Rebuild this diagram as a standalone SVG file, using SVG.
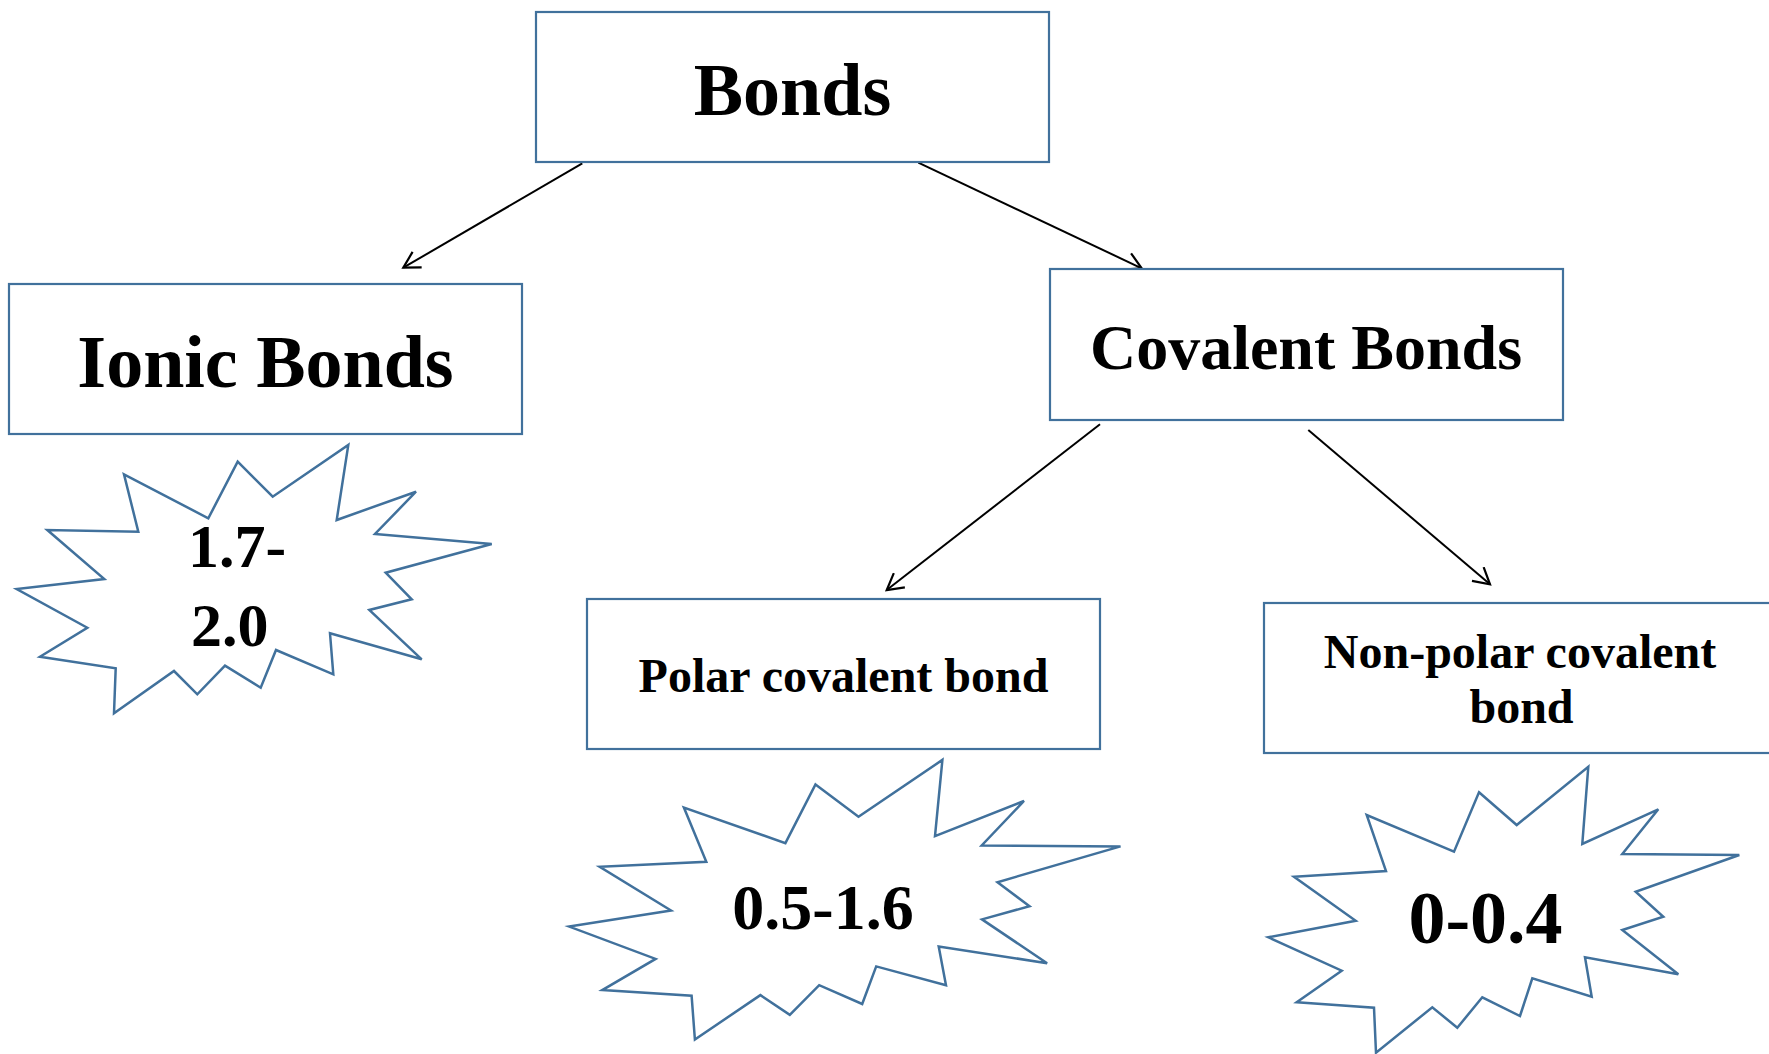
<svg xmlns="http://www.w3.org/2000/svg" width="1769" height="1054" viewBox="0 0 1769 1054">
<style>
.box{fill:#ffffff;stroke:#41719c;stroke-width:2.2}
.star{fill:#ffffff;stroke:#41719c;stroke-width:2.5;stroke-linejoin:miter}
.t{font-family:"Liberation Serif","Times New Roman",serif;font-weight:bold;fill:#000000}
.c{text-anchor:middle}
.conn{stroke:#000000;stroke-width:2;fill:none;marker-end:url(#arrow)}
</style>
<defs>
<marker id="arrow" viewBox="0 0 20 20" refX="18" refY="10" markerWidth="20" markerHeight="20" markerUnits="userSpaceOnUse" orient="auto">
<path d="M2,1 L18,10 L2,19" fill="none" stroke="#000000" stroke-width="2.2"/>
</marker>
</defs>
<rect width="1769" height="1054" fill="#ffffff"/>
<g id="connectors">
<line class="conn" x1="582.3" y1="163.3" x2="403.3" y2="267.7"/>
<line class="conn" x1="918.3" y1="162.7" x2="1141.7" y2="268.3"/>
<line class="conn" x1="1100" y1="424.3" x2="886.7" y2="590"/>
<line class="conn" x1="1308.3" y1="430" x2="1490" y2="584.3"/>
</g>
<g id="bonds">
<rect class="box" x="536" y="12" width="513" height="150"/>
<text class="t c" x="792.5" y="115" font-size="74">Bonds</text>
</g>
<g id="ionic">
<rect class="box" x="9" y="284" width="513" height="150"/>
<text class="t c" x="265.5" y="387" font-size="74">Ionic Bonds</text>
</g>
<g id="covalent">
<rect class="box" x="1050" y="269" width="513" height="151"/>
<text class="t c" x="1306" y="369" font-size="64">Covalent Bonds</text>
</g>
<g id="polar">
<rect class="box" x="587" y="599" width="513" height="150"/>
<text class="t c" x="843.5" y="692" font-size="48">Polar covalent bond</text>
</g>
<g id="nonpolar">
<rect class="box" x="1264" y="603" width="520" height="150"/>
<text class="t c" x="1520" y="668" font-size="48">Non-polar covalent</text>
<text class="t c" x="1521.5" y="723" font-size="48">bond</text>
</g>
<g id="ionic-range">
<polygon class="star" points="237.7,461.7 272.7,496.7 348.3,445 336.7,520 416,491.7 375,534 491.7,544 385.7,572.7 411.7,599.3 369.3,610 421.7,659.3 330,633.3 333.3,674.3 276,650 260.7,687.7 225,665.7 197.3,694.3 174,671 114,713.3 115.7,668.3 40,656.7 87.3,627.7 16.7,589 104.3,579 47.3,530 138.3,531.7 124,474.3 208.3,518.3"/>
<text class="t" x="188" y="566.5" font-size="62">1.7-</text>
<text class="t" x="191" y="646" font-size="62">2.0</text>
</g>
<g id="polar-range">
<polygon class="star" points="815.5,784.5 858.5,816.8 942.4,759.9 935,836.2 1024,801 981.7,845.4 1120.5,846.4 997.5,882.2 1029.5,906.2 982,919.4 1047.1,963.2 938.7,946.4 946,985.2 876.2,966.4 862.2,1004 819.2,985.2 789.8,1014.8 760.4,995.1 694.9,1039.5 691.6,995.7 602.3,990.1 655.6,958.9 569.2,926.6 671,910.5 599.7,866.8 706.3,861.8 683.9,807.6 785.4,843.1"/>
<text class="t c" x="823" y="929" font-size="64">0.5-1.6</text>
</g>
<g id="nonpolar-range">
<polygon class="star" points="1479,792.3 1516.7,825 1588.3,766.7 1582.3,844 1658.3,809.3 1622.3,854 1739.3,855 1635.7,891.7 1663.3,916.7 1622.3,930 1678.3,974.3 1585,957.3 1591.7,996.7 1532.3,978.3 1520,1016 1482.3,997.3 1457.3,1027.7 1432.3,1007.3 1376,1052.7 1374,1007.7 1296.7,1002.3 1341.7,970.7 1268.3,937.3 1355.7,920.7 1294,876.7 1386,871 1366.7,815 1454,851.7"/>
<text class="t c" x="1485.5" y="943" font-size="74">0-0.4</text>
</g>
</svg>
